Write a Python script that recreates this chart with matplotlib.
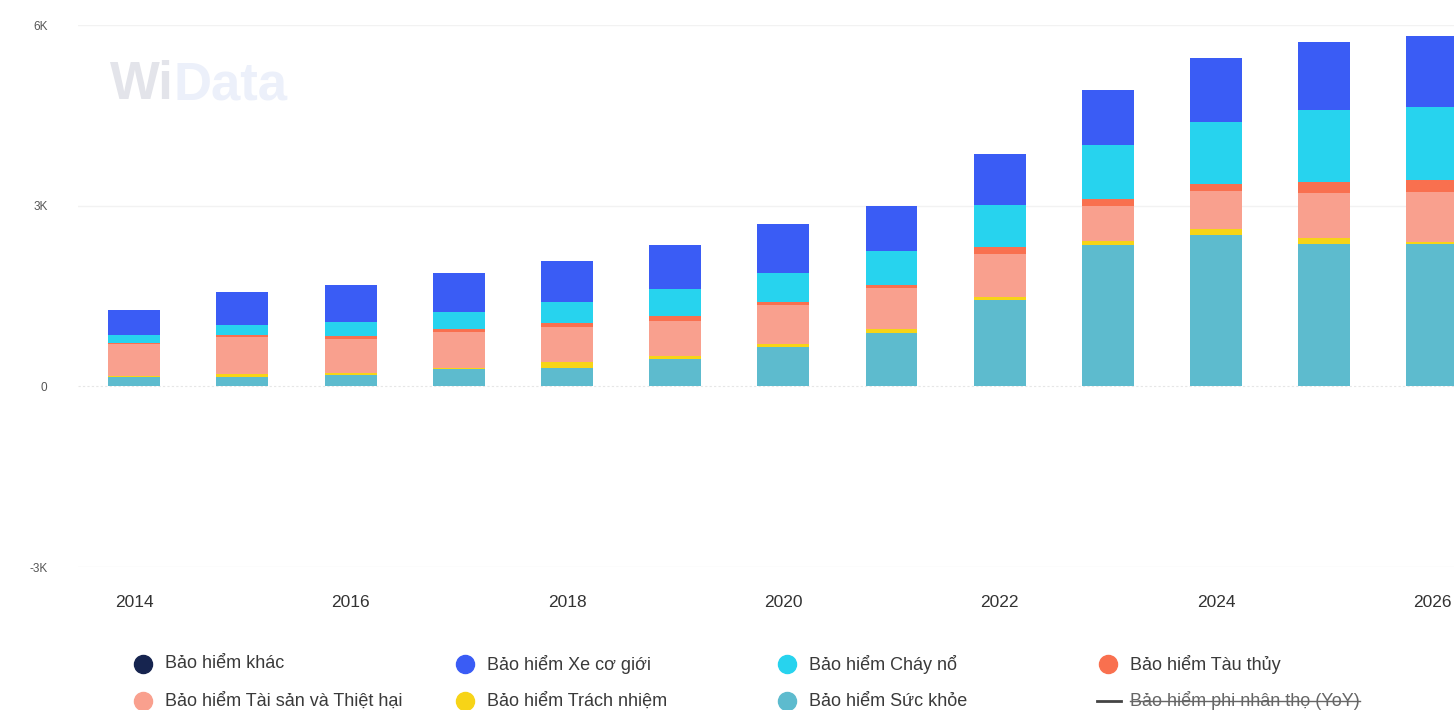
import numpy as np
import matplotlib
matplotlib.use("Agg")
import matplotlib.pyplot as plt
from matplotlib.lines import Line2D
from matplotlib.ticker import FuncFormatter

plt.rcParams['font.family'] = ['Liberation Sans', 'DejaVu Sans']

# Non-life insurance premiums by line of business (billion VND)
years = np.arange(2014, 2027)
khac = [0, 0, 0, 0, 0, 0, 0, 0, 0, 0, 0, 0, 0]
suc_khoe = [150, 150, 180, 280, 310, 460, 660, 880, 1440, 2350, 2520, 2370, 2370]
trach_nhiem = [20, 50, 40, 20, 90, 50, 45, 66, 45, 66, 100, 100, 20]
tai_san = [530, 620, 570, 600, 590, 570, 640, 680, 710, 580, 620, 740, 830]
tau_thuy = [20, 30, 50, 60, 55, 80, 55, 55, 120, 110, 116, 180, 200]
chay_no = [130, 170, 220, 280, 350, 450, 490, 560, 690, 900, 1030, 1200, 1220]
xe_co_gioi = [410, 540, 630, 650, 680, 730, 800, 750, 860, 920, 1070, 1120, 1170]

# stacking order bottom -> top
stack = [
    ("Bảo hiểm Sức khỏe", suc_khoe, "#5DBBCE"),
    ("Bảo hiểm Trách nhiệm", trach_nhiem, "#F7D417"),
    ("Bảo hiểm Tài sản và Thiệt hại", tai_san, "#F9A08E"),
    ("Bảo hiểm Tàu thủy", tau_thuy, "#F9704F"),
    ("Bảo hiểm Cháy nổ", chay_no, "#27D3EE"),
    ("Bảo hiểm Xe cơ giới", xe_co_gioi, "#3A5CF5"),
    ("Bảo hiểm khác", khac, "#16244F"),
]

fig = plt.figure(figsize=(14.54, 7.10), dpi=100)
ax = fig.add_axes([78 / 1454, 1 - 567 / 710, 1376 / 1454, 542 / 710])

bottom = np.zeros(len(years))
for name, vals, color in stack:
    vals = np.array(vals, dtype=float)
    ax.bar(years, vals, width=0.48, bottom=bottom, color=color, linewidth=0, zorder=3)
    bottom += vals

ax.set_xlim(2013.48, 2026.2)
ax.set_ylim(-3000, 6000)
ax.set_yticks([-3000, 0, 3000, 6000])
ax.yaxis.set_major_formatter(FuncFormatter(lambda v, p: "0" if v == 0 else f"{int(v / 1000)}K"))
ax.set_xticks(years[::2])
ax.tick_params(axis='y', length=0, pad=22, labelsize=8.5, labelcolor="#555555")
ax.tick_params(axis='x', length=0, pad=20, labelsize=12.5, labelcolor="#333333")
for s in ax.spines.values():
    s.set_visible(False)
for y in [-3000, 3000, 6000]:
    ax.axhline(y, color="#F2F2F2", lw=1, zorder=0)
ax.axhline(0, color="#E6E6E6", lw=0.8, ls=(0, (2, 2)), zorder=0)

# watermark
wm = fig.text(110 / 1454, 1 - 85 / 710, "Wi", fontsize=38, fontweight="bold",
              color="#E3E4EA", va="center", ha="left", zorder=0)
fig.canvas.draw()
wb = wm.get_window_extent(fig.canvas.get_renderer()).transformed(fig.transFigure.inverted())
fig.text(wb.x1, 1 - 85 / 710, "Data", fontsize=38, fontweight="bold",
         color="#ECF0FA", va="center", ha="left", zorder=0)

# legend laid out row by row
legend_items = [
    ("Bảo hiểm khác", "#16244F"),
    ("Bảo hiểm Xe cơ giới", "#3A5CF5"),
    ("Bảo hiểm Cháy nổ", "#27D3EE"),
    ("Bảo hiểm Tàu thủy", "#F9704F"),
    ("Bảo hiểm Tài sản và Thiệt hại", "#F9A08E"),
    ("Bảo hiểm Trách nhiệm", "#F7D417"),
    ("Bảo hiểm Sức khỏe", "#5DBBCE"),
]
col_x = [143, 465, 787, 1108]
row_y = [664, 701]
for i, (name, color) in enumerate(legend_items):
    cx = col_x[i % 4] / 1454
    cy = 1 - row_y[i // 4] / 710
    fig.add_artist(Line2D([cx], [cy], marker="o", markersize=13, color=color,
                          linestyle="none", transform=fig.transFigure))
    fig.text(cx + 22 / 1454, cy, name, fontsize=13, color="#3A3A3A", va="center")

# hidden YoY series: dash marker and struck-through label
cx = col_x[3] / 1454
cy = 1 - row_y[1] / 710
fig.add_artist(Line2D([cx - 11 / 1454, cx + 13 / 1454], [cy, cy], color="#444444", lw=2,
                      transform=fig.transFigure))
yoy = fig.text(cx + 22 / 1454, cy, "Bảo hiểm phi nhân thọ (YoY)", fontsize=13,
               color="#666666", va="center")
fig.canvas.draw()
bb = yoy.get_window_extent(fig.canvas.get_renderer()).transformed(fig.transFigure.inverted())
ymid = (bb.y0 + bb.y1) / 2
fig.add_artist(Line2D([bb.x0, bb.x1], [ymid, ymid], color="#666666", lw=1,
                      transform=fig.transFigure))

fig.savefig("out.png", dpi=100, facecolor="white")
